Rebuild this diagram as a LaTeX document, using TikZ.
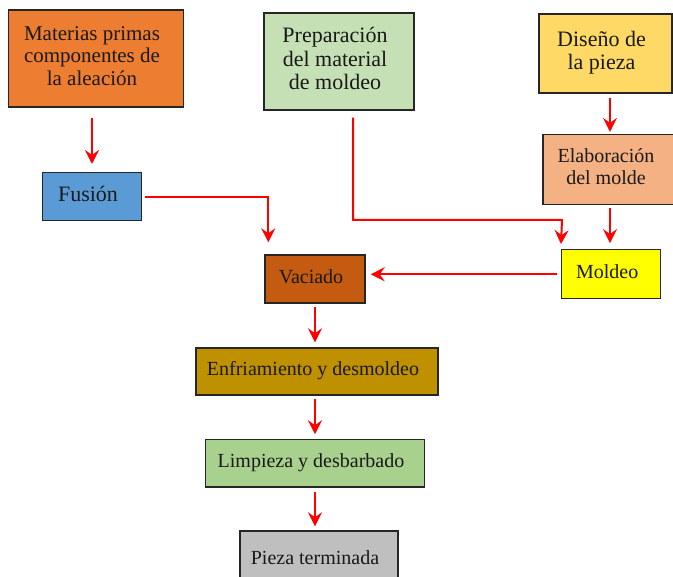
\documentclass[tikz,border=0pt]{standalone}
\usepackage{fontspec}
\setmainfont{Liberation Serif}
\usetikzlibrary{arrows.meta}
\definecolor{cmat}{HTML}{ED7D31}
\definecolor{cprep}{HTML}{C5E0B4}
\definecolor{cdis}{HTML}{FFD966}
\definecolor{celab}{HTML}{F4B183}
\definecolor{cfus}{HTML}{5B9BD5}
\definecolor{cvac}{HTML}{C55A11}
\definecolor{cmol}{HTML}{FFFF00}
\definecolor{cenf}{HTML}{BF9000}
\definecolor{clim}{HTML}{A9D18E}
\definecolor{cpie}{HTML}{BFBFBF}
\newcommand{\bt}[3]{{\fontsize{#1}{#2}\selectfont\begin{tabular}{@{}c@{\hspace{8pt}}}#3\end{tabular}}}
\begin{document}
\begin{tikzpicture}[x=1pt,y=-1pt,
  box/.style={draw=black!85, line width=1.4pt, inner sep=0pt, text=black!90},
  arr/.style={draw=red, line width=2pt, -{Stealth[length=14pt,width=14pt,inset=5pt]}}]
\useasboundingbox (0,0) rectangle (673,577);
\clip (0,0) rectangle (673,577);
\node[box, fill=cmat, minimum width=175pt, minimum height=97pt] (mat) at (96,58.5) {\bt{21}{22.5}{Materias primas\\componentes de\\la aleación}};
\node[box, fill=cprep, minimum width=150pt, minimum height=97pt] (prep) at (339,61.5) {\bt{22}{23.5}{Preparación\\del material\\de moldeo}};
\node[box, fill=cdis, minimum width=133pt, minimum height=79pt] (dis) at (605.5,53.5) {\bt{22}{23}{Diseño de\\la pieza}};
\node[box, fill=celab, minimum width=134pt, minimum height=70pt] (elab) at (610,169.6) {\bt{20}{22}{Elaboración\\del molde}};
\node[box, fill=cfus, minimum width=99pt, minimum height=48pt] (fus) at (92,196.7) {\bt{22}{23}{Fusión}};
\node[box, fill=cvac, minimum width=100pt, minimum height=48pt] (vac) at (315,279) {\bt{20}{22}{Vaciado}};
\node[box, fill=cmol, minimum width=99pt, minimum height=49pt] (mol) at (611.2,274.3) {\bt{20}{22}{Moldeo}};
\node[box, fill=cenf, minimum width=242pt, minimum height=47pt] (enf) at (317,371.5) {\bt{20}{22}{Enfriamiento y desmoldeo}};
\node[box, fill=clim, minimum width=219pt, minimum height=47.5pt] (lim) at (315,463.2) {\bt{20}{22}{Limpieza y desbarbado}};
\node[box, fill=cpie, minimum width=158pt, minimum height=58pt] (pie) at (319,560) {\bt{20}{22}{Pieza terminada}};
\coordinate (bend) at (562,220);
% connectors
\draw[arr] ([yshift=-10pt]mat.south -| fus.north) -- ([yshift=8pt]fus.north);
\draw[arr] ([xshift=3pt]fus.east) -| ([xshift=4pt,yshift=12pt]vac.north west);
\draw[arr] ([xshift=14pt,yshift=-7pt]prep.south) |- (bend) -- ([yshift=5pt]mol.north west);
\draw[arr] ([yshift=-4pt]dis.south -| elab.north) -- ([yshift=2pt]elab.north);
\draw[arr] ([yshift=-3pt]elab.south) -- ([yshift=6pt]elab.south |- mol.north);
\draw[arr] ([xshift=-4pt]mol.west) -- ([xshift=5pt]vac.east |- mol.west);
\draw[arr] ([yshift=-3pt]vac.south) -- ([yshift=5pt]enf.north -| vac.south);
\draw[arr] ([yshift=-3pt]enf.south -| lim.north) -- ([yshift=4.5pt]lim.north);
\draw[arr] ([yshift=-4pt]lim.south) -- ([yshift=4pt]lim.south |- pie.north);
\end{tikzpicture}
\end{document}
